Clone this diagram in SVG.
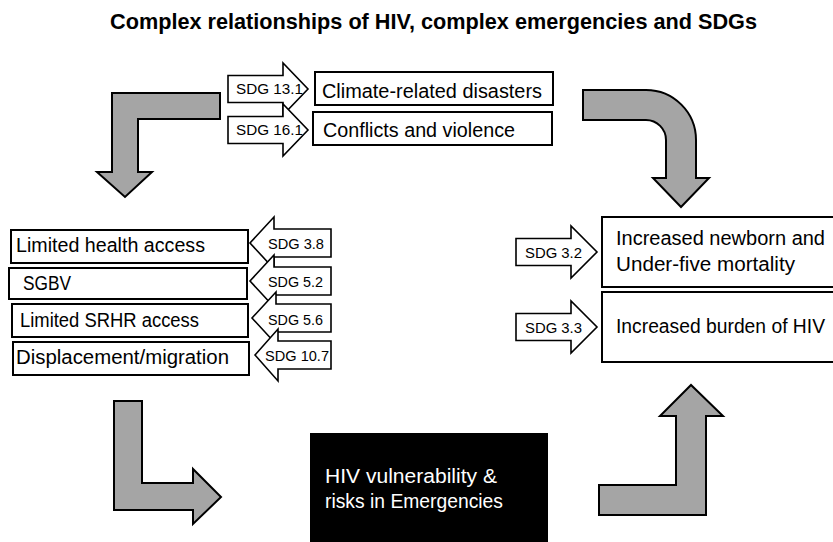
<svg xmlns="http://www.w3.org/2000/svg" width="833" height="542" viewBox="0 0 833 542">
<style>
text{font-family:"Liberation Sans",Arial,sans-serif;fill:#000}
.title{font-size:21.5px;font-weight:bold}
.lbl{font-size:19.5px}
.sdg{font-size:15px}
.box{fill:#fff;stroke:#000;stroke-width:2}
.sarrow{fill:#fff;stroke:#000;stroke-width:1.6;stroke-linejoin:miter}
.garrow{fill:#a5a5a5;stroke:#000;stroke-width:2;stroke-linejoin:miter}
.wt{fill:#fff}
</style>
<rect width="833" height="542" fill="#fff"/>
<text class="title" x="110" y="29" textLength="647" lengthAdjust="spacingAndGlyphs">Complex relationships of HIV, complex emergencies and SDGs</text>

<g id="connectors">
<path class="garrow" d="M112,93 L220,93 L220,119 L138,119 L138,172 L152,172 L125,197 L97,172 L112,172 Z"/>
<path class="garrow" d="M583,90 L646,90 A50,50 0 0 1 696,140 L696,178 L709,178 L681,207 L653,178 L666,178 L666,140 A20,20 0 0 0 646,120 L583,120 Z"/>
<path class="garrow" d="M114,401 L142,401 L142,483 L193,483 L193,469 L221,497 L193,524 L193,510 L114,510 Z"/>
<path class="garrow" d="M599,485 L676,485 L676,416 L660,416 L691,385 L723,416 L706,416 L706,515 L599,515 Z"/>
</g>

<g id="sdg131">
<path class="sarrow" d="M228,75.5 L283,75.5 L283,63 L308,89 L283,115 L283,102.5 L228,102.5 Z"/>
<text class="sdg" x="236" y="94" textLength="67" lengthAdjust="spacingAndGlyphs">SDG 13.1</text>
</g>
<g id="sdg161">
<path class="sarrow" d="M228,116.5 L283,116.5 L283,104 L308,130 L283,156 L283,143.5 L228,143.5 Z"/>
<text class="sdg" x="236" y="135" textLength="67" lengthAdjust="spacingAndGlyphs">SDG 16.1</text>
</g>
<g id="climate">
<rect class="box" x="315" y="72" width="238" height="33"/>
<text class="lbl" x="322" y="98" textLength="220" lengthAdjust="spacingAndGlyphs">Climate-related disasters</text>
</g>
<g id="conflicts">
<rect class="box" x="313" y="112" width="239" height="33"/>
<text class="lbl" x="323" y="137" textLength="192" lengthAdjust="spacingAndGlyphs">Conflicts and violence</text>
</g>

<g id="health">
<rect class="box" x="11" y="230" width="237" height="33"/>
<text class="lbl" x="16" y="252" textLength="189" lengthAdjust="spacingAndGlyphs">Limited health access</text>
</g>
<g id="sgbv">
<rect class="box" x="9" y="268" width="238" height="31"/>
<text class="lbl" x="23" y="290" textLength="48" lengthAdjust="spacingAndGlyphs">SGBV</text>
</g>
<g id="srhr">
<rect class="box" x="12" y="304" width="236" height="33"/>
<text class="lbl" x="20" y="327" textLength="179" lengthAdjust="spacingAndGlyphs">Limited SRHR access</text>
</g>
<g id="displacement">
<rect class="box" x="13" y="342" width="236" height="33"/>
<text class="lbl" x="16" y="364" textLength="213" lengthAdjust="spacingAndGlyphs">Displacement/migration</text>
</g>

<g id="sdg38">
<path class="sarrow" d="M331,229 L274,229 L274,217 L250,243 L274,269 L274,257 L331,257 Z"/>
<text class="sdg" x="268" y="249" textLength="56" lengthAdjust="spacingAndGlyphs">SDG 3.8</text>
</g>
<g id="sdg52">
<path class="sarrow" d="M331,267 L274,267 L274,255 L250,281 L274,307 L274,295 L331,295 Z"/>
<text class="sdg" x="268" y="287" textLength="55" lengthAdjust="spacingAndGlyphs">SDG 5.2</text>
</g>
<g id="sdg56">
<path class="sarrow" d="M331,304 L276,304 L276,292 L252,318 L276,344 L276,332 L331,332 Z"/>
<text class="sdg" x="268" y="325" textLength="55" lengthAdjust="spacingAndGlyphs">SDG 5.6</text>
</g>
<g id="sdg107">
<path class="sarrow" d="M331,341 L278,341 L278,329 L255,355 L278,381 L278,369 L331,369 Z"/>
<text class="sdg" x="265" y="361" textLength="64" lengthAdjust="spacingAndGlyphs">SDG 10.7</text>
</g>

<g id="sdg32">
<path class="sarrow" d="M516,238.5 L571,238.5 L571,226 L597,252 L571,278 L571,265.5 L516,265.5 Z"/>
<text class="sdg" x="525" y="258" textLength="57" lengthAdjust="spacingAndGlyphs">SDG 3.2</text>
</g>
<g id="sdg33">
<path class="sarrow" d="M516,313.5 L571,313.5 L571,301 L597,327 L571,353 L571,340.5 L516,340.5 Z"/>
<text class="sdg" x="525" y="333" textLength="57" lengthAdjust="spacingAndGlyphs">SDG 3.3</text>
</g>
<g id="mortality">
<rect class="box" x="602" y="217" width="235" height="70"/>
<text class="lbl" x="616" y="245" textLength="209" lengthAdjust="spacingAndGlyphs">Increased newborn and</text>
<text class="lbl" x="616" y="271" textLength="179" lengthAdjust="spacingAndGlyphs">Under-five mortality</text>
</g>
<g id="burden">
<rect class="box" x="602" y="292" width="235" height="70"/>
<text class="lbl" x="616" y="333" textLength="209" lengthAdjust="spacingAndGlyphs">Increased burden of HIV</text>
</g>

<g id="hiv">
<rect x="310" y="433" width="238" height="112" fill="#000"/>
<text class="lbl wt" x="325" y="483" textLength="172" lengthAdjust="spacingAndGlyphs">HIV vulnerability &amp;</text>
<text class="lbl wt" x="325" y="508" textLength="178" lengthAdjust="spacingAndGlyphs">risks in Emergencies</text>
</g>
</svg>
